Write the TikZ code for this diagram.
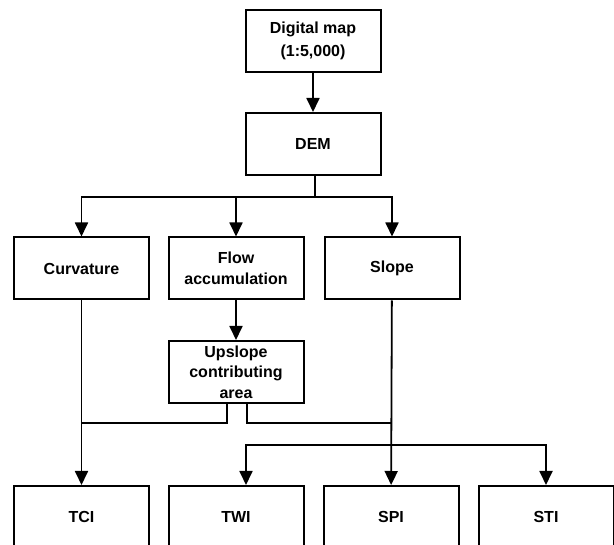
\documentclass[tikz,border=0pt]{standalone}
\usepackage{fontspec}
\setmainfont{Liberation Sans}
\usetikzlibrary{arrows.meta}
\tikzset{
  box/.style={draw=black, line width=2pt, rectangle, minimum width=135pt, minimum height=62pt,
    align=center, inner sep=0pt, font=\fontsize{16}{20.5}\selectfont\bfseries},
  conn/.style={line width=1.8pt},
  arr/.style={conn, -{Triangle[length=14pt,width=13pt]}}
}
\begin{document}
\begin{tikzpicture}[x=1pt,y=-1pt]
\useasboundingbox (0,0) rectangle (614,545);
\clip (0,0) rectangle (614,545);
\node[box] (map) at (313,41) {Digital map\\[2.5pt](1:5,000)};
\node[box] (dem) at (313,144) {DEM};
\node[box] (curv) at (81.5,268.5) {Curvature};
\node[box] (flow) at (236,268.5) {Flow\\accumulation};
\node[box] (slope) at (392,268.5) {Slope};
\node[box] (up) at (236,372) {Upslope\\contributing\\area};
\node[box] (tci) at (81.5,517) {TCI};
\node[box] (twi) at (236,517) {TWI};
\node[box] (spi) at (391,517) {SPI};
\node[box] (sti) at (546,517) {STI};
\coordinate (s1) at (315,197);
\coordinate (j1) at (392,423);
\coordinate (j2) at (392,445);
\draw[arr] (map) -- (dem);
\draw[conn] (dem.south -| s1) -- (s1);
\draw[arr] (s1) -| (curv.north);
\draw[arr] (s1) -| (flow.north);
\draw[arr] (s1) -| (slope.north);
\draw[arr] (flow) -- (up);
\draw[arr] (curv) -- (tci);
\draw[arr] (slope) -- (spi);
\draw[conn] ([xshift=-9pt]up.south) |- (curv.south |- j1);
\draw[conn] ([xshift=11pt]up.south) |- (j1);
\draw[arr] (j2) -| ([xshift=10pt]twi.north);
\draw[arr] (j2) -| (sti.north);
\end{tikzpicture}
\end{document}
